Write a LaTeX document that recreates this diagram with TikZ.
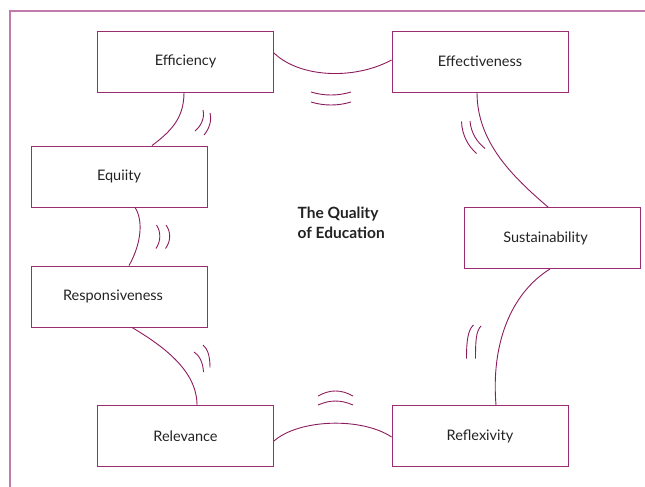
\documentclass[tikz,border=0pt]{standalone}
\usepackage{fontspec}
\setmainfont{Lato}
\begin{document}
\begin{tikzpicture}[x=1pt,y=-1pt,
  boxstyle/.style={draw=boxc, line width=0.9pt, minimum width=176pt, minimum height=61pt, inner sep=0pt, font=\fontsize{14.5}{16}\selectfont, text=txtc},
  conn/.style={draw=linec, line width=0.9pt},
  wave/.style={draw=linec, line width=0.9pt}]
\definecolor{boxc}{HTML}{9A2C74}
\definecolor{linec}{HTML}{8C1C5E}
\definecolor{framec}{HTML}{C27AAB}
\definecolor{txtc}{HTML}{222222}
\useasboundingbox (0,0) rectangle (645,487);
% frame
\draw[framec, line width=1.2pt] (10,495) -- (10,11) -- (655,11);
% boxes
\node[boxstyle] (eff) at (185.5,61.5) {Efficiency};
\node[boxstyle] (efv) at (480,61.5) {Effectiveness};
\node[boxstyle] (equ) at (119,176.5) {Equiity};
\node[boxstyle] (res) at (119,296.5) {\hspace*{-12pt}Responsiveness};
\node[boxstyle] (sus) at (552.5,238) {\hspace*{-14pt}Sustainability};
\node[boxstyle] (rel) at (185.5,436) {Relevance};
\node[boxstyle] (ref) at (480,436) {Reflexivity};
% title
\node[anchor=north west, align=left, inner sep=0pt, text=txtc,
  font=\fontsize{15.5}{19.5}\selectfont\bfseries] (title) at (297.5,207) {The Quality\\of Education};
% connectors
\draw[conn] ([yshift=8.5pt]eff.east) .. controls +(26,25) and +(-37,20) .. ([yshift=1.5pt]efv.west);
\draw[conn] ([xshift=-1.5pt]eff.south) .. controls +(0,25) and +(20,-15) .. ([xshift=33pt]equ.north);
\draw[conn] ([xshift=16pt]equ.south) .. controls +(8,12) and +(13,-23) .. ([xshift=10pt]res.north);
\draw[conn] ([xshift=13pt]res.south) .. controls +(30,18) and +(0,-35) .. ([xshift=11.5pt]rel.north);
\draw[conn] ([xshift=-3pt]efv.south) .. controls +(0,50) and +(-35,-30) .. ([xshift=-4.5pt]sus.north);
\draw[conn] ([xshift=-2.5pt]sus.south) .. controls +(-40,25) and +(-5,-60) .. ([xshift=16pt]ref.north);
\draw[conn] ([yshift=-5pt]rel.east) .. controls +(25,-22) and +(-30,-20) .. ([yshift=-1pt]ref.west);
% waves
\draw[wave] (311,92) .. controls (324,96) and (338,96) .. (351,92);
\draw[wave] (311,102) .. controls (324,106) and (338,106) .. (351,102);
\draw[wave] (318,396) .. controls (330,389.3) and (341,389.3) .. (353,396);
\draw[wave] (318,405) .. controls (330,399.7) and (341,399.7) .. (353,405);
\draw[wave] (203,110) .. controls (205,118) and (201,126) .. (195,131);
\draw[wave] (210,113) .. controls (212,121) and (209,129) .. (204,135);
\draw[wave] (156.5,225) .. controls (161,232) and (161,241) .. (156,248.5);
\draw[wave] (166,225) .. controls (171,232) and (171,241) .. (165.5,248.5);
\draw[wave] (194,352) .. controls (199,355) and (203,362) .. (203.5,372);
\draw[wave] (203,345) .. controls (208,349) and (210,357) .. (210,367.5);
\draw[wave] (461.5,121.5) .. controls (462,135) and (468,146) .. (476.5,153.5);
\draw[wave] (470,121) .. controls (471,133) and (477,142) .. (485,148.5);
\draw[wave] (473.5,325) .. controls (468,330) and (466.5,340) .. (466.5,358.5);
\draw[wave] (481,326) .. controls (476,331) and (475.5,341) .. (475.5,358.5);
\end{tikzpicture}
\end{document}
